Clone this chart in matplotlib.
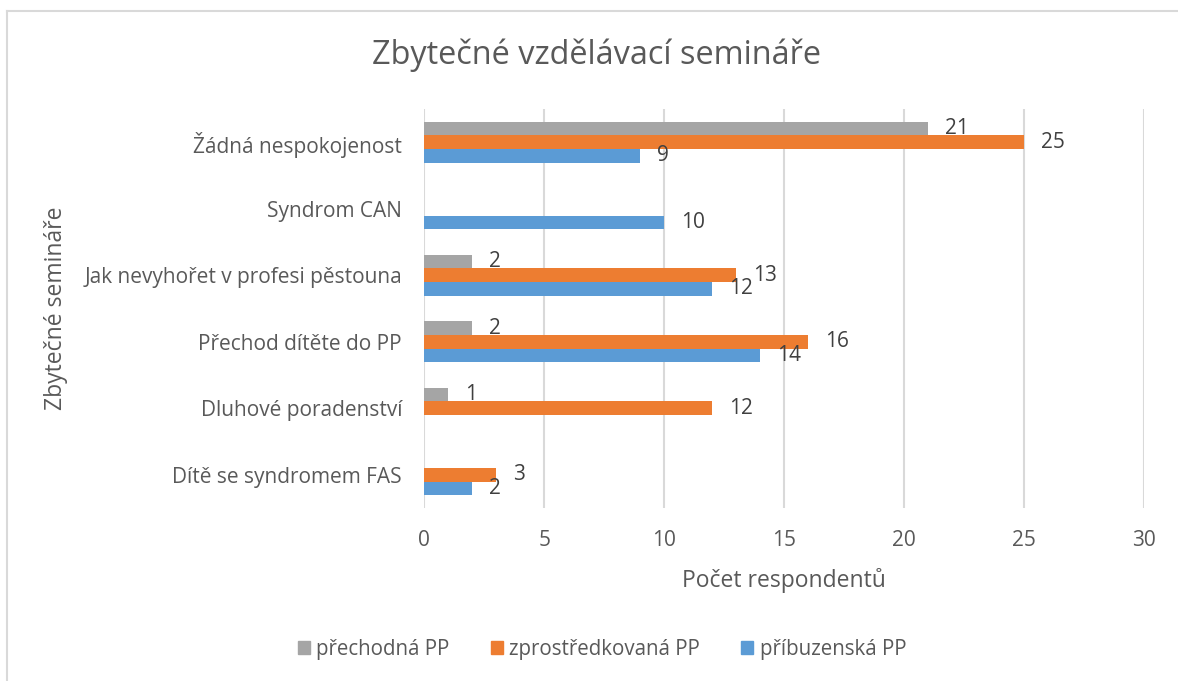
import matplotlib
matplotlib.use("Agg")
import matplotlib.pyplot as plt
import numpy as np
from matplotlib.lines import Line2D

plt.rcParams['font.family'] = ['Open Sans', 'DejaVu Sans']

categories = ["Žádná nespokojenost", "Syndrom CAN", "Jak nevyhořet v profesi pěstouna",
              "Přechod dítěte do PP", "Dluhové poradenství", "Dítě se syndromem FAS"]
series_names = ["přechodná PP", "zprostředkovaná PP", "příbuzenská PP"]
prechodna = [21, 0, 2, 2, 1, 0]
zprostredkovana = [25, 0, 13, 16, 12, 3]
pribuzenska = [9, 10, 12, 14, 0, 2]
colors = ["#A5A5A5", "#ED7D31", "#5B9BD5"]
x_ticks = [0, 5, 10, 15, 20, 25, 30]

W, H = 1178, 681
fig = plt.figure(figsize=(W / 100, H / 100), dpi=100)
ax = fig.add_axes([424.3 / W, 1 - 508 / H, (1144.3 - 424.3) / W, (508 - 109) / H])

y = np.arange(len(categories))
h = 0.206
series = [prechodna, zprostredkovana, pribuzenska]
offsets = [-h, 0, h]
for vals, off, col, name in zip(series, offsets, colors, series_names):
    bars = ax.barh(y + off, vals, height=h, color=col, linewidth=0,
                   label=name, zorder=3)
    for b, v in zip(bars, vals):
        if v > 0:
            ax.annotate(str(v), (v, b.get_y() + b.get_height() / 2), xytext=(12, 0),
                        textcoords="offset points", va="center", ha="left",
                        fontsize=15, color="#404040")

ax.set_ylim(len(categories) - 0.5, -0.5)
ax.set_xlim(0, 30)
ax.set_xticks(x_ticks)
ax.set_yticks(y)
ax.set_yticklabels(categories)
ax.tick_params(axis="both", length=0, labelsize=15, colors="#595959")
ax.tick_params(axis="y", pad=16)
ax.tick_params(axis="x", pad=16)
ax.grid(axis="x", color="#D9D9D9", linewidth=1.5, zorder=0)
for s in ax.spines.values():
    s.set_visible(False)

ax.set_xlabel("Počet respondentů", fontsize=16.5, color="#595959", labelpad=12)
fig.text(56 / W, 1 - 308 / H, "Zbytečné semináře", rotation=90, ha="center", va="center",
         fontsize=16.5, color="#595959")
fig.text(597 / W, 1 - 55 / H, "Zbytečné vzdělávací semináře", ha="center", va="center",
         fontsize=23.4, color="#595959")

handles = [plt.Rectangle((0, 0), 1, 1, color=c) for c in colors]
fig.legend(handles, series_names, loc="center", bbox_to_anchor=(602 / W, 1 - 649 / H),
           ncol=3, frameon=False, fontsize=14.8, handlelength=0.6, handleheight=0.6,
           handletextpad=0.3, columnspacing=2.0, labelcolor="#595959")

# chart border
fig.add_artist(Line2D([6.5 / W, 6.5 / W], [0, 1 - 10.5 / H], color="#D9D9D9", linewidth=1.5,
                      transform=fig.transFigure))
fig.add_artist(Line2D([6.5 / W, 1], [1 - 10.5 / H, 1 - 10.5 / H], color="#D9D9D9", linewidth=1.5,
                      transform=fig.transFigure))

fig.savefig("out.png", dpi=100, facecolor="white")
